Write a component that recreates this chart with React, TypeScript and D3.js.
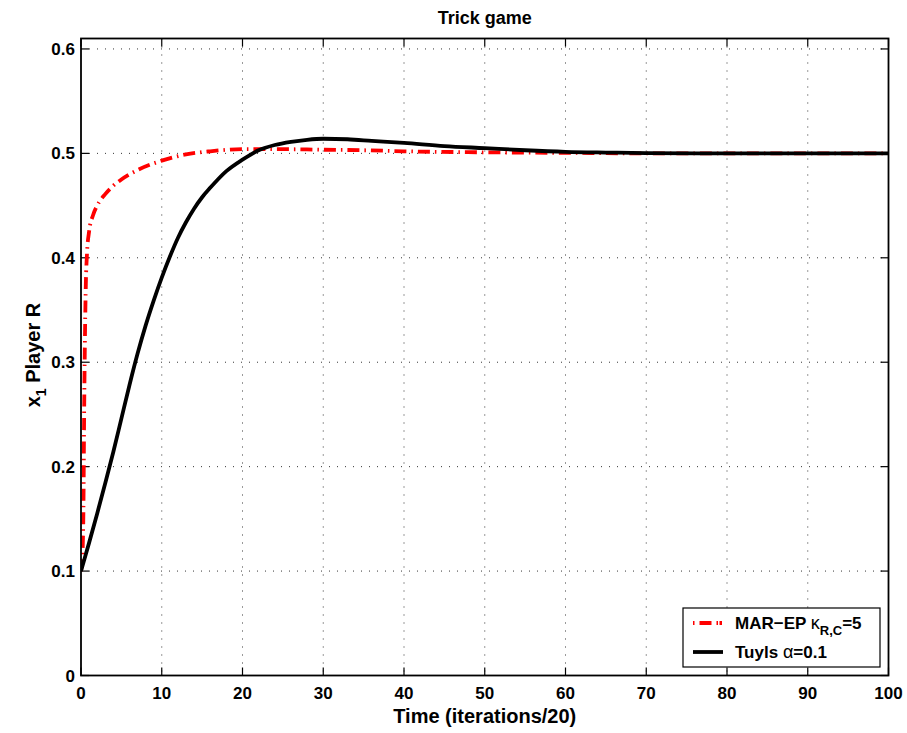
import * as d3 from "d3";

// MAR-EP kappa=5 (red dash-dot)
const marTime = [0, 0.2, 0.3, 0.4, 0.5, 0.6, 0.75, 1, 1.5, 2, 3, 4, 5, 7, 10, 13, 16, 20, 25, 30, 35, 40, 50, 60, 70, 80, 90, 100];
const marValues = [0.1, 0.12, 0.16, 0.26, 0.33, 0.375, 0.405, 0.425, 0.441, 0.45, 0.461, 0.469, 0.475, 0.484, 0.493, 0.499, 0.502, 0.504, 0.504, 0.5035, 0.503, 0.502, 0.501, 0.5005, 0.5, 0.5, 0.5, 0.5];

// Tuyls alpha=0.1 (black)
const tuylsTime = [0, 1, 2, 3, 4, 5, 6, 7, 8, 9, 10, 11, 12, 13, 14, 15, 16, 18, 20, 22, 24, 26, 28, 30, 33, 36, 40, 45, 50, 55, 60, 65, 70, 80, 90, 100];
const tuylsValues = [0.1, 0.127, 0.155, 0.184, 0.214, 0.246, 0.278, 0.308, 0.335, 0.359, 0.381, 0.401, 0.419, 0.434, 0.447, 0.458, 0.467, 0.483, 0.494, 0.503, 0.508, 0.511, 0.513, 0.514, 0.5135, 0.512, 0.51, 0.507, 0.505, 0.503, 0.5015, 0.5008, 0.5003, 0.5, 0.5, 0.5];

const xTicks = [0, 10, 20, 30, 40, 50, 60, 70, 80, 90, 100];
const yTicks = [0, 0.1, 0.2, 0.3, 0.4, 0.5, 0.6];

const font = "'Liberation Sans', Arial, sans-serif";

function App() {
  const width = 907;
  const height = 733;
  const left = 81, right = 888.5, top = 38.5, bottom = 675.5;

  const x = d3.scaleLinear().domain([0, 100]).range([left, right]);
  const y = d3.scaleLinear().domain([0, 0.61]).range([bottom, top]);

  const line = d3
    .line<[number, number]>()
    .x((d) => x(d[0]))
    .y((d) => y(d[1]))
    .curve(d3.curveMonotoneX);

  const marPath = line(marTime.map((t, i) => [t, marValues[i]] as [number, number])) || "";
  const tuylsPath = line(tuylsTime.map((t, i) => [t, tuylsValues[i]] as [number, number])) || "";

  const tick = 8;
  const grid = { stroke: "#000", strokeWidth: 0.8, strokeDasharray: "1,7" };

  return (
    <svg width={width} height={height} style={{ position: "absolute", left: 0, top: 0, background: "#fff" }} fontFamily={font}>
      <defs>
        <clipPath id="plot">
          <rect x={left} y={top} width={right - left} height={bottom - top} />
        </clipPath>
      </defs>
      <rect width={width} height={height} fill="#fff" />

      {/* grid */}
      {xTicks.slice(1, -1).map((t) => (
        <line key={"gx" + t} x1={x(t)} x2={x(t)} y1={top} y2={bottom} {...grid} />
      ))}
      {yTicks.slice(1).map((t) => (
        <line key={"gy" + t} x1={left} x2={right} y1={y(t)} y2={y(t)} {...grid} />
      ))}

      {/* ticks inside on all sides */}
      {xTicks.map((t) => (
        <g key={"tx" + t} stroke="#000" strokeWidth={1.2}>
          <line x1={x(t)} x2={x(t)} y1={bottom} y2={bottom - tick} />
          <line x1={x(t)} x2={x(t)} y1={top} y2={top + tick} />
        </g>
      ))}
      {yTicks.map((t) => (
        <g key={"ty" + t} stroke="#000" strokeWidth={1.2}>
          <line x1={left} x2={left + tick} y1={y(t)} y2={y(t)} />
          <line x1={right} x2={right - tick} y1={y(t)} y2={y(t)} />
        </g>
      ))}

      {/* curves */}
      <g clipPath="url(#plot)">
        <path d={marPath} fill="none" stroke="#ff0000" strokeWidth={3.8} strokeDasharray="12,5,1.5,5" />
        <path d={tuylsPath} fill="none" stroke="#000" strokeWidth={3.8} />
      </g>

      <rect x={left} y={top} width={right - left} height={bottom - top} fill="none" stroke="#000" strokeWidth={1.8} />

      {/* tick labels */}
      {xTicks.map((t) => (
        <text key={"lx" + t} x={x(t)} y={bottom + 23} textAnchor="middle" fontSize={17} fontWeight="bold">
          {t}
        </text>
      ))}
      {yTicks.map((t) => (
        <text key={"ly" + t} x={left - 6} y={y(t) + 6} textAnchor="end" fontSize={17} fontWeight="bold">
          {t}
        </text>
      ))}

      {/* title and axis labels */}
      <text x={(left + right) / 2} y={24} textAnchor="middle" fontSize={18} fontWeight="bold">
        Trick game
      </text>
      <text x={(left + right) / 2} y={723} textAnchor="middle" fontSize={20} fontWeight="bold">
        Time (iterations/20)
      </text>
      <text transform="translate(40,355) rotate(-90)" textAnchor="middle" fontSize={20} fontWeight="bold">
        x<tspan fontSize={14} dy={6}>1</tspan>
        <tspan dy={-6}> Player R</tspan>
      </text>

      {/* legend */}
      <rect x={683} y={608} width={197} height={59} fill="#fff" stroke="#000" strokeWidth={1.2} />
      <line x1={693} x2={722} y1={623} y2={623} stroke="#ff0000" strokeWidth={3.8} strokeDasharray="1.5,5,12,5,1.5" />
      <text x={735} y={629} fontSize={17} fontWeight="bold">
        MAR−EP <tspan fontWeight="normal" fontSize={18}>κ</tspan>
        <tspan fontSize={13} dy={6}>R,C</tspan>
        <tspan dy={-6}>=5</tspan>
      </text>
      <line x1={693} x2={723} y1={652} y2={652} stroke="#000" strokeWidth={3.8} />
      <text x={735} y={658} fontSize={17} fontWeight="bold">
        Tuyls <tspan fontWeight="normal" fontSize={18}>α</tspan>=0.1
      </text>
    </svg>
  );
}

export default App;
